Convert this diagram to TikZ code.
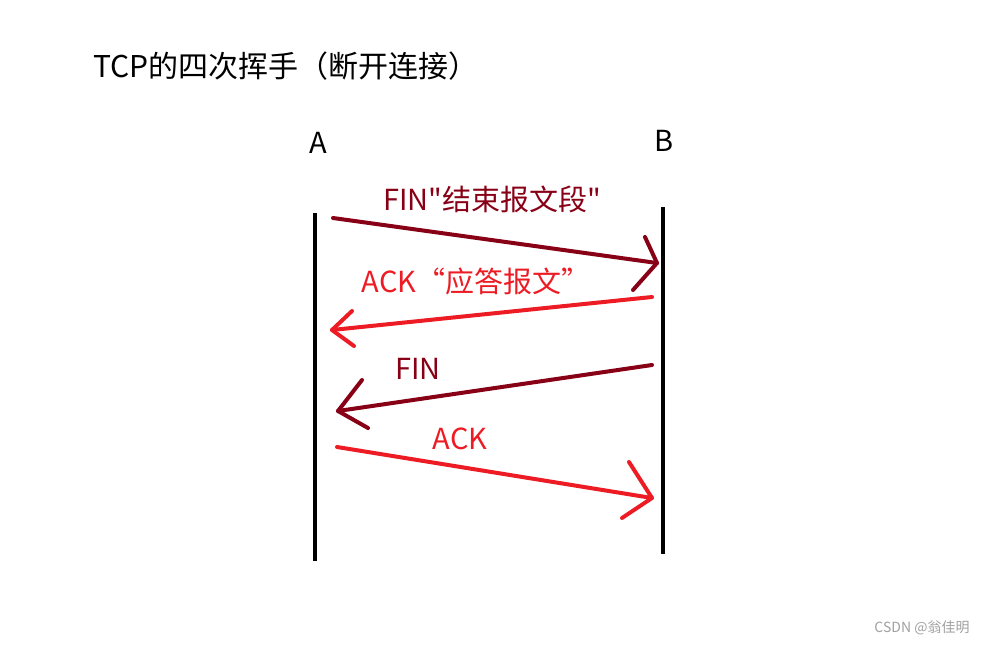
\documentclass[tikz,border=0pt]{standalone}
\usepackage{fontspec}
\setmainfont{Noto Sans CJK SC}[Ligatures=TeXOff]
\definecolor{darkred}{RGB}{136,0,21}
\definecolor{paintred}{RGB}{237,28,36}
\definecolor{markgray}{RGB}{160,160,160}
\tikzset{
    lifeline/.style={line width=4pt, black},
    msg/.style={line width=4pt, line cap=round, line join=round},
    lbl/.style={inner sep=0pt, anchor=base, font=\fontsize{29}{34}\selectfont}
}
\begin{document}
\begin{tikzpicture}[x=1pt, y=-1pt]
    \useasboundingbox (0,0) rectangle (986,645);
    % Title
    \node[lbl, anchor=base west, font=\fontsize{30}{36}\selectfont] (title) at (93,77) {TCP的四次挥手（断开连接）};
    % Hosts
    \node[lbl] (hostA) at (318,153) {A};
    \node[lbl] (hostB) at (664,151) {B};
    \coordinate (Atop) at (315,213);
    \coordinate (Abot) at (315,561);
    \coordinate (Btop) at (663,207);
    \coordinate (Bbot) at (663,554);
    \draw[lifeline] (Atop) -- (Abot);
    \draw[lifeline] (Btop) -- (Bbot);
    % FIN from A
    \coordinate (fin1s) at (333,218);
    \coordinate (fin1t) at (657,263);
    \draw[msg, darkred] (fin1s) -- (fin1t);
    \draw[msg, darkred] (645,237) -- (fin1t) -- (633,290);
    \node[lbl, darkred] (fin1lbl) at (492,210) {FIN"结束报文段"};
    % ACK from B
    \coordinate (ack1s) at (652,297);
    \coordinate (ack1t) at (332,330);
    \draw[msg, paintred] (ack1s) -- (ack1t);
    \draw[msg, paintred] (352,311) -- (ack1t) -- (354,346);
    \node[lbl, paintred] (ack1lbl) at (476,292) {ACK“应答报文”};
    % FIN from B
    \coordinate (fin2s) at (652,365);
    \coordinate (fin2t) at (338,411);
    \draw[msg, darkred] (fin2s) -- (fin2t);
    \draw[msg, darkred] (362,380) -- (fin2t) -- (368,428);
    \node[lbl, darkred] (fin2lbl) at (418,379) {FIN};
    % ACK from A
    \coordinate (ack2s) at (337,447);
    \coordinate (ack2t) at (652,498);
    \draw[msg, paintred] (ack2s) -- (ack2t);
    \draw[msg, paintred] (629,462) -- (ack2t) -- (622,518);
    \node[lbl, paintred] (ack2lbl) at (460,449) {ACK};
    % Watermark
    \node[inner sep=0pt, markgray, font=\fontsize{14}{16}\selectfont] (mark) at (922,628) {CSDN @翁佳明};
\end{tikzpicture}
\end{document}
